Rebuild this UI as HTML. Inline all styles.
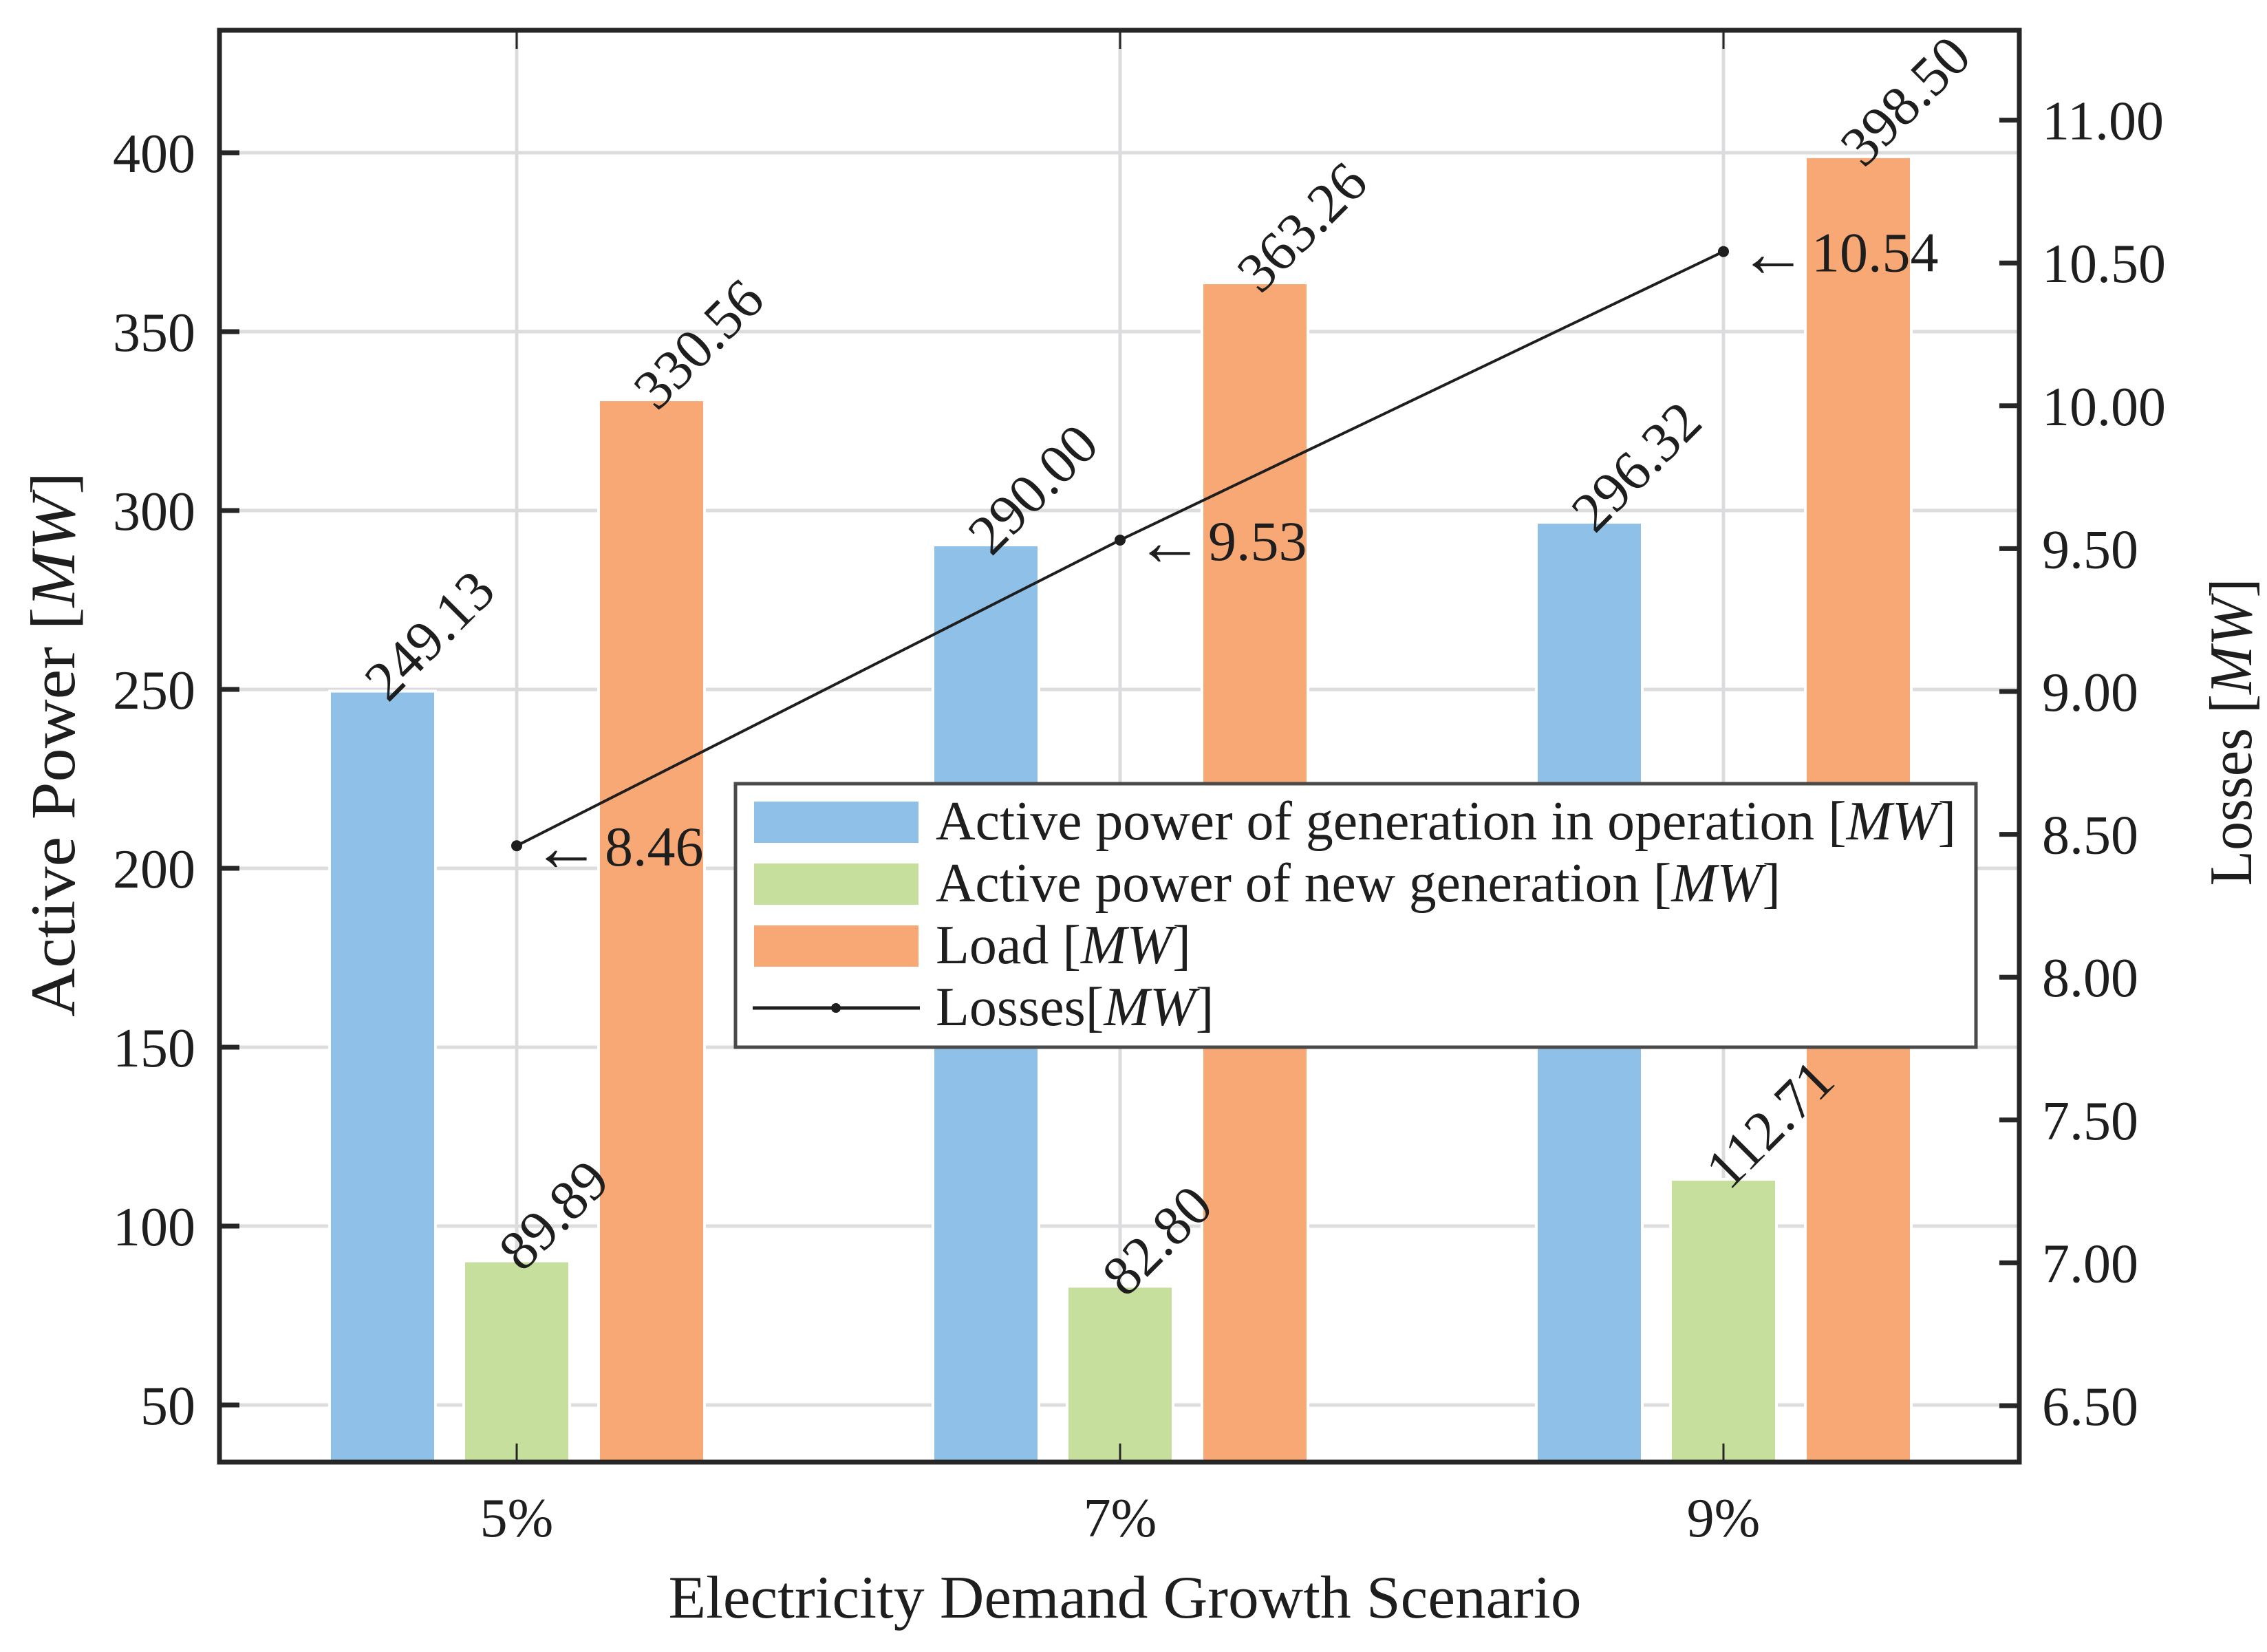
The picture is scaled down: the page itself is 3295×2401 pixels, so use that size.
<!DOCTYPE html>
<html><head><meta charset="utf-8"><style>
html,body{margin:0;padding:0;background:#fff}
svg{display:block}
text{font-family:"Liberation Serif",serif;fill:#1e1e1e}
</style></head><body>
<svg id="chart" width="3295" height="2401" viewBox="0 0 3295 2401" xmlns="http://www.w3.org/2000/svg">
<g id="grid"></g>
<g id="bars"></g>
<g id="line"></g>
<g id="labels"></g>
<g id="axes"></g>
<g id="legend">
  <rect x="1069" y="1139" width="1803" height="383" fill="#fff" stroke="#4a4a4a" stroke-width="5"/>
  <rect x="1096" y="1165" width="239" height="60" fill="#8fc1e8"/>
  <text x="1360" y="1220" font-size="80" textLength="1483" lengthAdjust="spacingAndGlyphs">Active power of generation in operation [<tspan font-style="italic">MW</tspan>]</text>
  <rect x="1096" y="1255" width="239" height="60" fill="#c6df9c"/>
  <text x="1360" y="1310" font-size="80" textLength="1228" lengthAdjust="spacingAndGlyphs">Active power of new generation [<tspan font-style="italic">MW</tspan>]</text>
  <rect x="1096" y="1345" width="239" height="60" fill="#f8a874"/>
  <text x="1360" y="1400" font-size="80">Load [<tspan font-style="italic">MW</tspan>]</text>
  <line x1="1094" y1="1465" x2="1337" y2="1465" stroke="#1e1e1e" stroke-width="5"/>
  <circle cx="1215" cy="1465" r="7" fill="#1e1e1e"/>
  <text x="1360" y="1490" font-size="80">Losses[<tspan font-style="italic">MW</tspan>]</text>
</g>
<text x="1635" y="2351" font-size="88" text-anchor="middle" textLength="1327" lengthAdjust="spacingAndGlyphs">Electricity Demand Growth Scenario</text>
<text transform="translate(108,1082) rotate(-90)" font-size="92" text-anchor="middle" textLength="792" lengthAdjust="spacingAndGlyphs">Active Power [<tspan font-style="italic">MW</tspan>]</text>
<text transform="translate(3272,1064) rotate(-90)" font-size="88" text-anchor="middle" textLength="447" lengthAdjust="spacingAndGlyphs">Losses [<tspan font-style="italic">MW</tspan>]</text>
</svg>
<script>
const categories = ["5%", "7%", "9%"];
const genOperation = [249.13, 290.00, 296.32];
const genNew = [89.89, 82.80, 112.71];
const load = [330.56, 363.26, 398.50];
const losses = [8.46, 9.53, 10.54];
const leftTicks = [50, 100, 150, 200, 250, 300, 350, 400];
const rightTicks = [6.5, 7.0, 7.5, 8.0, 8.5, 9.0, 9.5, 10.0, 10.5, 11.0];

const NS = "http://www.w3.org/2000/svg";
const L = 319, R = 2935, T = 44, B = 2125;
function yL(v){ return 222 + (400 - v) / 50 * 260; }
function yR(v){ return 2043 - (v - 6.5) / 0.5 * 207.6; }
function xC(i){ return 751 + i * 877; }
const barW = 150, offs = [-195, 0, 196];
function mk(tag, attrs, parent){
  const e = document.createElementNS(NS, tag);
  for (const k in attrs) e.setAttribute(k, attrs[k]);
  parent.appendChild(e);
  return e;
}
const grid = document.getElementById('grid');
const bars = document.getElementById('bars');
const lineG = document.getElementById('line');
const labels = document.getElementById('labels');
const axes = document.getElementById('axes');

leftTicks.forEach(v => {
  const g = mk('line', {x1:L, x2:R, y1:yL(v), y2:yL(v), stroke:'#dcdcde', 'stroke-width':5}, grid);
  
  
  const t = mk('line', {x1:L, x2:L+29, y1:yL(v), y2:yL(v), stroke:'#262626', 'stroke-width':7}, axes);
  
  
  const tx = mk('text', {x:284, y:yL(v)+28, 'font-size':80, 'text-anchor':'end'}, axes);
  tx.textContent = v;
  
  
});
rightTicks.forEach(v => {
  const t = mk('line', {x1:R-29, x2:R, y1:yR(v), y2:yR(v), stroke:'#262626', 'stroke-width':7}, axes);
  
  
  const tx = mk('text', {x:2968, y:yR(v)+28, 'font-size':80}, axes);
  tx.textContent = v.toFixed(2);
  
  
});
categories.forEach((c, i) => {
  const g = mk('line', {x1:xC(i), x2:xC(i), y1:T, y2:B, stroke:'#dcdcde', 'stroke-width':5}, grid);
  
  
  const tx = mk('text', {x:xC(i), y:2233, 'font-size':80, 'text-anchor':'middle'}, axes);
  tx.textContent = c;
  
  
  const t1 = mk('line', {x1:xC(i), x2:xC(i), y1:B-27, y2:B, stroke:'#262626', 'stroke-width':3}, axes);
  
  
  const t2 = mk('line', {x1:xC(i), x2:xC(i), y1:T, y2:T+27, stroke:'#262626', 'stroke-width':3}, axes);
  
  
});
const series = [[genOperation,'#8fc1e8','bar-generation'],[genNew,'#c6df9c','bar-new-generation'],[load,'#f8a874','bar-load']];
series.forEach((s, si) => {
  s[0].forEach((v, i) => {
    const cx = xC(i) + offs[si];
    const top = yL(v);
    const r = mk('rect', {x:cx-barW/2, y:top, width:barW, height:B-top, fill:s[1], stroke:'#fff', 'stroke-width':8, 'paint-order':'stroke'}, bars);
    
    
    const tx = mk('text', {transform:`translate(${cx+8},${top+16}) rotate(-45)`, 'font-size':82}, labels);
    tx.textContent = v.toFixed(2);
    
    
  });
});
const pts = losses.map((v, i) => xC(i) + ',' + yR(v)).join(' ');
const pl = mk('polyline', {points:pts, fill:'none', stroke:'#1e1e1e', 'stroke-width':4}, lineG);


losses.forEach((v, i) => {
  const c = mk('circle', {cx:xC(i), cy:yR(v), r:8, fill:'#1e1e1e'}, lineG);
  
  
  const ar = mk('text', {x:xC(i)+22, y:yR(v)+36, 'font-size':100, 'font-family':'DejaVu Sans, sans-serif'}, lineG);
  ar.textContent = '\u2190';
  
  
  const tx = mk('text', {x:xC(i)+128, y:yR(v)+29, 'font-size':82}, lineG);
  tx.textContent = v.toFixed(2);
  
  
});
const frame = mk('rect', {x:L, y:T, width:R-L, height:B-T, fill:'none', stroke:'#262626', 'stroke-width':7}, axes);


</script>
</body></html>
